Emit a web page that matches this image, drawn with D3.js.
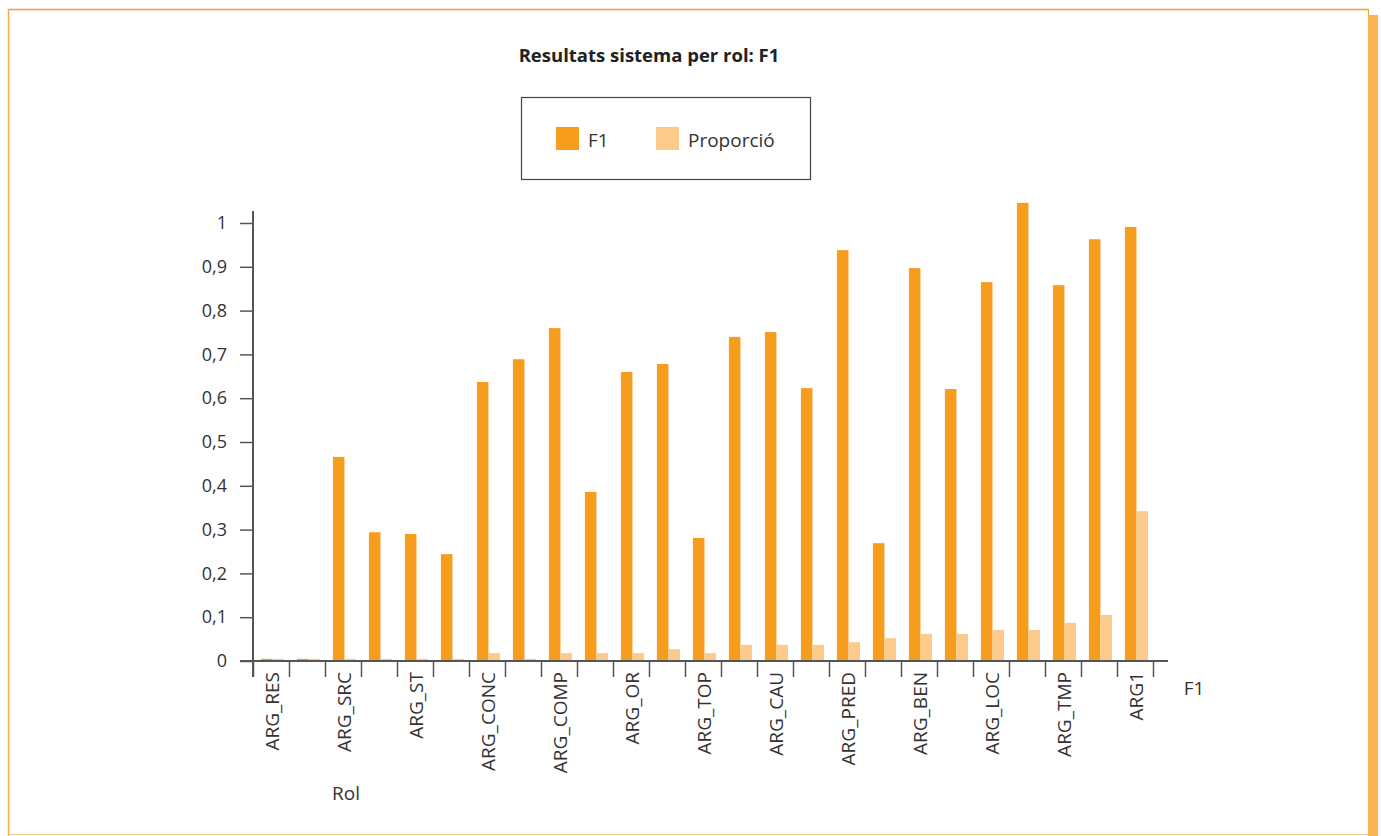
<!DOCTYPE html>
<html>
<head>
<meta charset="utf-8">
<script src="https://cdn.jsdelivr.net/npm/d3@7"></script>
<style>
  html, body { margin: 0; padding: 0; background: #fff; }
  svg { display: block; font-family: "Open Sans", sans-serif; }
</style>
</head>
<body>
<svg id="chart" width="1381" height="836"></svg>
<script>
// ---- data ----
const categories = ["ARG_RES","c1","ARG_SRC","c3","ARG_ST","c5","ARG_CONC","c7","ARG_COMP","c9",
  "ARG_OR","c11","ARG_TOP","c13","ARG_CAU","c15","ARG_PRED","c17","ARG_BEN","c19",
  "ARG_LOC","c21","ARG_TMP","c23","ARG1"];
const tickLabels = ["ARG_RES","","ARG_SRC","","ARG_ST","","ARG_CONC","","ARG_COMP","",
  "ARG_OR","","ARG_TOP","","ARG_CAU","","ARG_PRED","","ARG_BEN","",
  "ARG_LOC","","ARG_TMP","","ARG1"];
const f1Values = [0.005,0.005,0.466,0.294,0.290,0.244,0.637,0.689,0.760,0.386,
  0.660,0.678,0.281,0.740,0.751,0.623,0.938,0.269,0.897,0.621,
  0.865,1.046,0.858,0.963,0.991];
const propValues = [0.005,0.005,0.005,0.005,0.005,0.005,0.018,0.005,0.018,0.018,
  0.018,0.027,0.018,0.037,0.037,0.037,0.043,0.052,0.062,0.062,
  0.071,0.071,0.087,0.105,0.342];
const seriesNames = ["F1","Proporció"];
const yTicks = [0,0.1,0.2,0.3,0.4,0.5,0.6,0.7,0.8,0.9,1];

// ---- layout ----
const svg = d3.select("#chart");
const colors = {"F1":"#F79D1E","Proporció":"#FCCA8A"};
const textColor = "#333";
const axisColor = "#555";

// frame
svg.append("line").attr("x1",8).attr("x2",1369).attr("y1",9.5).attr("y2",9.5)
  .attr("stroke","#F5A030").attr("stroke-width",1.5);
svg.append("line").attr("x1",8.5).attr("x2",8.5).attr("y1",9).attr("y2",836)
  .attr("stroke","#F7AC4A").attr("stroke-width",1.5);
svg.append("line").attr("x1",8).attr("x2",1369).attr("y1",834.5).attr("y2",834.5)
  .attr("stroke","#F9C589").attr("stroke-width",1);
svg.append("line").attr("x1",1368.5).attr("x2",1368.5).attr("y1",9).attr("y2",16)
  .attr("stroke","#F5A030").attr("stroke-width",1);
svg.append("rect").attr("x",1368).attr("y",15).attr("width",10).attr("height",821)
  .attr("fill","#FBB452");

// scales
const x = d3.scaleBand().domain(categories).range([253,1153]).paddingInner(0).paddingOuter(0);
const xEdge = d3.scaleLinear().domain([0,categories.length]).range([253,1153]);
const xSub = d3.scaleBand().domain(seriesNames).range([x.bandwidth()*0.22, x.bandwidth()*0.86]).padding(0);
const y = d3.scaleLinear().domain([0,1]).range([661,223]);

// bars
const data = categories.map((c,i)=>({cat:c, vals:[{s:"F1",v:f1Values[i]},{s:"Proporció",v:propValues[i]}]}));
const g = svg.append("g");
g.selectAll("g.grp").data(data).join("g").attr("class","grp")
  .attr("transform",d=>`translate(${x(d.cat)},0)`)
  .selectAll("rect").data(d=>d.vals).join("rect")
  .attr("x",d=>xSub(d.s)).attr("width",xSub.bandwidth())
  .attr("y",d=>y(d.v)).attr("height",d=>y(0)-y(d.v))
  .attr("fill",d=>colors[d.s]);

// y axis
const yAxis = d3.axisLeft(y).tickValues(yTicks).tickSize(13).tickSizeOuter(0)
  .tickFormat(d=>d3.format("~g")(d).replace(".",","));
const ya = svg.append("g").attr("transform","translate(253,0)").call(yAxis);
ya.select(".domain").remove();
ya.selectAll(".tick line").attr("stroke",axisColor).attr("stroke-width",1.5);
ya.selectAll(".tick text").attr("x",-26).attr("fill",textColor)
  .style("font-size","18px").style("font-family","'Open Sans', sans-serif");
svg.append("line").attr("x1",253).attr("x2",253).attr("y1",211).attr("y2",677)
  .attr("stroke",axisColor).attr("stroke-width",2);

// x axis ticks at band edges
const xTickAxis = d3.axisBottom(xEdge).tickValues(d3.range(categories.length+1))
  .tickSize(16).tickSizeOuter(0).tickFormat("");
const xa = svg.append("g").attr("transform","translate(0,661)").call(xTickAxis);
xa.select(".domain").remove();
xa.selectAll(".tick line").attr("stroke",axisColor).attr("stroke-width",1.5);
svg.append("line").attr("x1",240).attr("x2",1168).attr("y1",661).attr("y2",661)
  .attr("stroke",axisColor).attr("stroke-width",2);

// x labels
const xLab = d3.axisBottom(x).tickSize(0).tickSizeOuter(0)
  .tickFormat((d,i)=>tickLabels[i]);
const xl = svg.append("g").attr("transform","translate(0,661)").call(xLab);
xl.select(".domain").remove();
xl.selectAll(".tick text")
  .attr("transform","rotate(-90)")
  .attr("x",-11).attr("y",1).attr("dy","0.35em")
  .attr("text-anchor","end").attr("fill",textColor)
  .style("font-size","19px").style("font-family","'Open Sans', sans-serif");

// title
svg.append("text").attr("x",649).attr("y",62).attr("text-anchor","middle")
  .attr("fill","#222").style("font-size","18.5px").style("font-weight","bold")
  .text("Resultats sistema per rol: F1");

// legend
svg.append("rect").attr("x",521.5).attr("y",97.5).attr("width",289).attr("height",82)
  .attr("fill","none").attr("stroke","#444").attr("stroke-width",1.2);
const legX = [556, 656];
seriesNames.forEach((s,i)=>{
  svg.append("rect").attr("x",legX[i]).attr("y",127).attr("width",23).attr("height",23).attr("fill",colors[s]);
  svg.append("text").attr("x",legX[i]+32).attr("y",147).attr("fill",textColor)
    .style("font-size","19px").text(s);
});

// axis titles
svg.append("text").attr("x",346).attr("y",800).attr("text-anchor","middle")
  .attr("fill",textColor).style("font-size","19px").text("Rol");
svg.append("text").attr("x",1194).attr("y",695).attr("text-anchor","middle")
  .attr("fill",textColor).style("font-size","19px").text("F1");
</script>
</body>
</html>
